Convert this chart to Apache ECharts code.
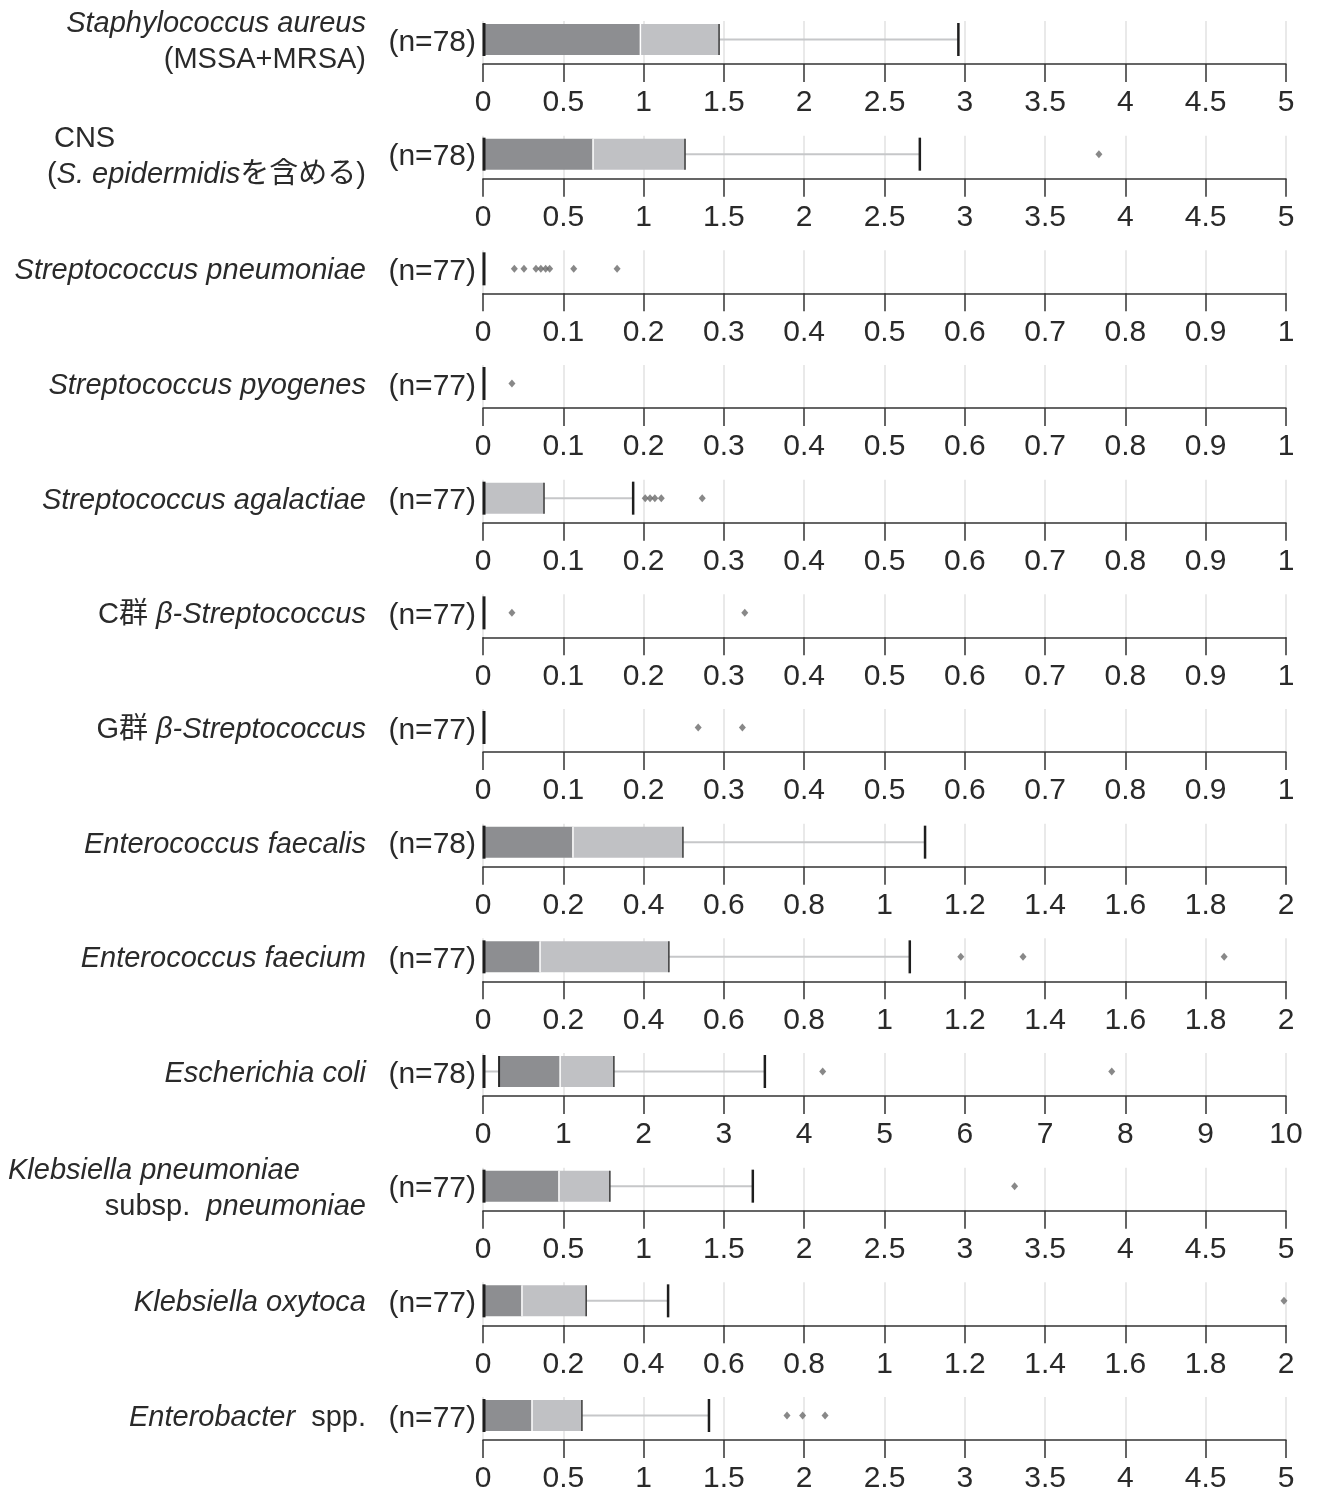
<!DOCTYPE html>
<html>
<head>
<meta charset="utf-8">
<script src="https://cdn.jsdelivr.net/npm/echarts@6/dist/echarts.min.js"></script>
<style>
html,body{margin:0;padding:0;background:#fff;}
#chart{width:1319px;height:1490px;}
</style>
</head>
<body>
<div id="chart"></div>
<script>
// ---- data ----
const speciesLabels = [
  '{i|Staphylococcus aureus}\n{n|(MSSA+MRSA)}',
  '{cns|CNS}\n{n|(}{i|S. epidermidis}{n|を含める)}',
  '{i|Streptococcus pneumoniae}',
  '{i|Streptococcus pyogenes}',
  '{i|Streptococcus agalactiae}',
  '{n|C群 }{i|β-Streptococcus}',
  '{n|G群 }{i|β-Streptococcus}',
  '{i|Enterococcus faecalis}',
  '{i|Enterococcus faecium}',
  '{i|Escherichia coli}',
  '{kp|Klebsiella pneumoniae}\n{n|subsp.  }{i|pneumoniae}',
  '{i|Klebsiella oxytoca}',
  '{i|Enterobacter}{n|  spp.}'
];
const counts = [78, 78, 77, 77, 77, 77, 77, 78, 77, 78, 77, 77, 77];
const axisMax = [5, 5, 1, 1, 1, 1, 1, 2, 2, 10, 5, 2, 5];
const axisInterval = [0.5, 0.5, 0.1, 0.1, 0.1, 0.1, 0.1, 0.2, 0.2, 1, 0.5, 0.2, 0.5];
// [min, Q1, median, Q3, max]
const boxes = [
  [0, 0, 0.98, 1.47, 2.96],
  [0, 0, 0.685, 1.258, 2.72],
  [0, 0, 0, 0, 0],
  [0, 0, 0, 0, 0],
  [0, 0, 0, 0.076, 0.187],
  [0, 0, 0, 0, 0],
  [0, 0, 0, 0, 0],
  [0, 0, 0.224, 0.498, 1.101],
  [0, 0, 0.142, 0.463, 1.063],
  [0, 0.2, 0.96, 1.63, 3.51],
  [0, 0, 0.473, 0.79, 1.68],
  [0, 0, 0.097, 0.257, 0.461],
  [0, 0, 0.305, 0.616, 1.407]
];
const outliers = [
  [],
  [3.835],
  [0.039, 0.051, 0.066, 0.072, 0.078, 0.083, 0.113, 0.167],
  [0.036],
  [0.202, 0.208, 0.214, 0.222, 0.273],
  [0.036, 0.326],
  [0.268, 0.323],
  [],
  [1.19, 1.345, 1.846],
  [4.23, 7.83],
  [3.31],
  [1.995],
  [1.893, 1.99, 2.13]
];

// ---- layout / style ----
const FONT = '"Liberation Sans", Arial, "Noto Sans CJK JP", sans-serif';
const TXT = '#2a2a2a';
const ROW_STEP = 114.667;
const GRID_TOP0 = 21;
const GRID_H = 43;
const SP = 29;
const TK = 30;

const grids = [], xAxes = [], yAxes = [], series = [];

function renderBox(params, api) {
  const mn = api.value(0), q1 = api.value(1), md = api.value(2), q3 = api.value(3), mx = api.value(4);
  const cs = params.coordSys;
  const X = v => api.coord([v, 0])[0];
  const top = cs.y + 3, h = 31, yc = top + h / 2;
  const capTop = cs.y + 2, capBot = cs.y + 35;
  const ch = [];
  if (q1 > mn) ch.push({type: 'line', shape: {x1: X(mn), y1: yc, x2: X(q1), y2: yc}, style: {stroke: '#c6c7c9', lineWidth: 2}});
  if (mx > q3) ch.push({type: 'line', shape: {x1: X(q3), y1: yc, x2: X(mx), y2: yc}, style: {stroke: '#c6c7c9', lineWidth: 2}});
  if (md > q1) ch.push({type: 'rect', shape: {x: X(q1), y: top, width: X(md) - X(q1), height: h}, style: {fill: '#8d8e91'}});
  if (q3 > md) ch.push({type: 'rect', shape: {x: X(md), y: top, width: X(q3) - X(md), height: h}, style: {fill: '#c0c1c4'}});
  if (md > q1 && q3 > md) ch.push({type: 'line', shape: {x1: X(md), y1: top, x2: X(md), y2: top + h}, style: {stroke: '#ffffff', lineWidth: 1.5}});
  if (q3 > q1) ch.push({type: 'line', shape: {x1: X(q3), y1: top, x2: X(q3), y2: top + h}, style: {stroke: '#3a3a3a', lineWidth: 1.5}});
  if (q1 > mn) ch.push({type: 'line', shape: {x1: X(q1), y1: top, x2: X(q1), y2: top + h}, style: {stroke: '#2a2a2a', lineWidth: 2}});
  if (mx > q3) ch.push({type: 'line', shape: {x1: X(mx), y1: capTop, x2: X(mx), y2: capBot}, style: {stroke: '#1e1e1e', lineWidth: 2.5}});
  ch.push({type: 'line', shape: {x1: X(mn) + 1, y1: capTop, x2: X(mn) + 1, y2: capBot}, style: {stroke: '#1e1e1e', lineWidth: 3}});
  return {type: 'group', children: ch};
}

for (let i = 0; i < speciesLabels.length; i++) {
  grids.push({left: 483, width: 803, top: GRID_TOP0 + i * ROW_STEP, height: GRID_H, containLabel: false, outerBoundsMode: 'none'});
  xAxes.push({
    type: 'value', gridIndex: i, min: 0, max: axisMax[i], interval: axisInterval[i], position: 'bottom',
    axisLine: {show: true, onZero: false, lineStyle: {color: '#333', width: 1.5}},
    axisTick: {show: true, length: 18, lineStyle: {color: '#333', width: 1.5}},
    axisLabel: {fontSize: TK, color: TXT, fontFamily: FONT, margin: 24},
    splitLine: {show: true, lineStyle: {color: '#e2e2e2', width: 1.5}}
  });
  yAxes.push({
    type: 'category', gridIndex: i, data: ['r'], position: 'left', offset: 0,
    axisLine: {show: false}, axisTick: {show: false}, splitLine: {show: false},
    axisLabel: {margin: 7, fontSize: TK, color: TXT, fontFamily: FONT, padding: [0, 0, 4, 0],
      formatter: () => '(n=' + counts[i] + ')'}
  });
  yAxes.push({
    type: 'category', gridIndex: i, data: ['r'], position: 'left', offset: 0,
    axisLine: {show: false}, axisTick: {show: false}, splitLine: {show: false},
    axisLabel: {
      margin: 117, fontSize: SP, color: TXT, fontFamily: FONT, lineHeight: 36, padding: [0, 0, 1, 0],
      formatter: () => speciesLabels[i],
      rich: {
        i: {fontStyle: 'italic', fontSize: SP, color: TXT, fontFamily: FONT, lineHeight: 36},
        n: {fontSize: SP, color: TXT, fontFamily: FONT, lineHeight: 36},
        cns: {fontSize: SP, color: TXT, fontFamily: FONT, lineHeight: 36, width: 290, align: 'left', padding: [0, 0, 0, 7]},
        kp: {fontStyle: 'italic', fontSize: SP, color: TXT, fontFamily: FONT, lineHeight: 36, width: 358, align: 'left'}
      }
    }
  });
  series.push({
    type: 'custom', xAxisIndex: i, yAxisIndex: 2 * i, renderItem: renderBox,
    encode: {x: [0, 1, 2, 3, 4], y: 5},
    data: [[...boxes[i], 0]], silent: true, z: 3
  });
  series.push({
    type: 'scatter', xAxisIndex: i, yAxisIndex: 2 * i, symbol: 'diamond', symbolSize: [7, 8],
    symbolOffset: [0, -3], itemStyle: {color: '#6a6a6a'},
    data: outliers[i].map(v => [v, 0]), silent: true, z: 4
  });
}

const chart = echarts.init(document.getElementById('chart'), null, {renderer: 'canvas'});
chart.setOption({
  animation: false,
  backgroundColor: '#ffffff',
  grid: grids, xAxis: xAxes, yAxis: yAxes, series: series
});
</script>
</body>
</html>
